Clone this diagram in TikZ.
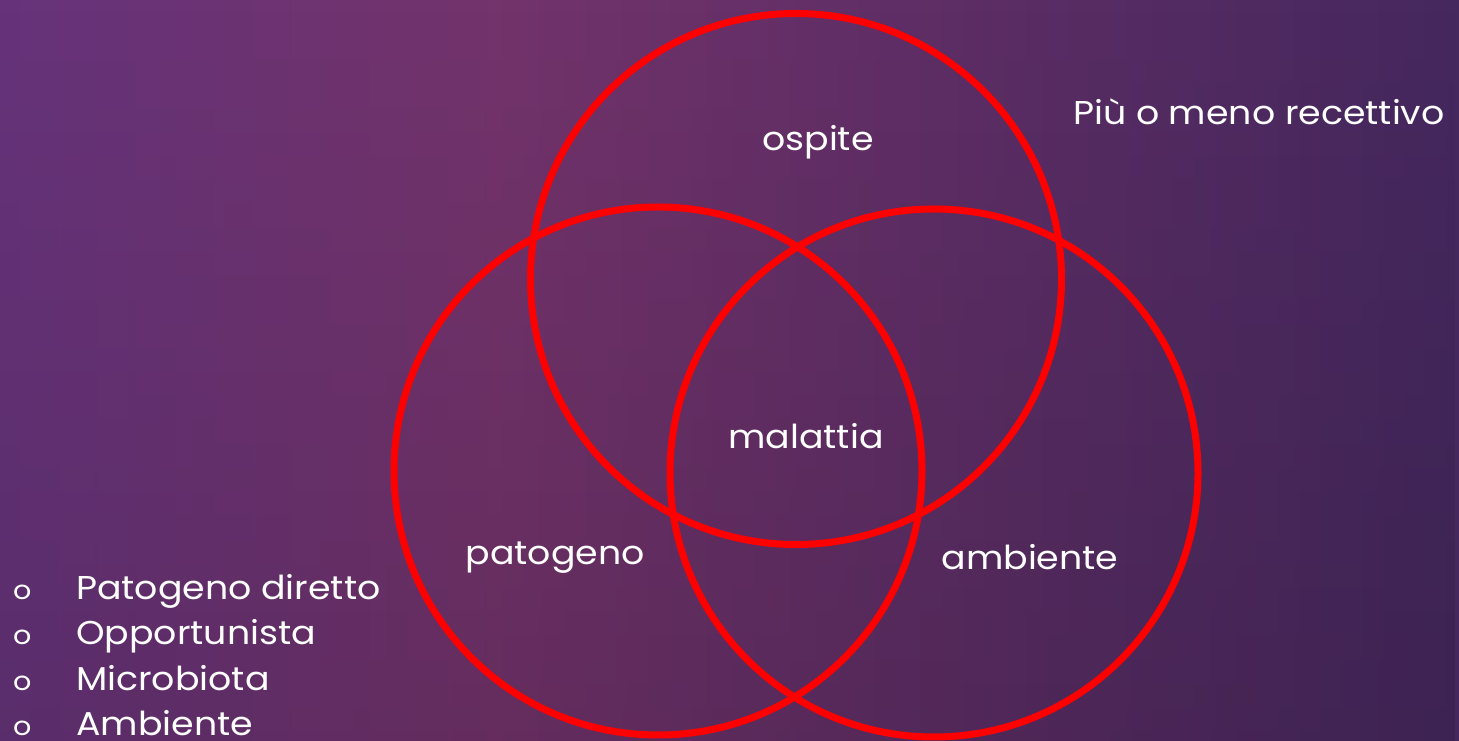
\documentclass[tikz,border=0pt]{standalone}
\usepackage{fontspec}
\setmainfont{Poppins}[FakeStretch=1.1]
\usetikzlibrary{fadings}
\pgfdeclarehorizontalshading{bgshade}{100bp}{rgb(0bp)=(0.40,0.20,0.48); rgb(25bp)=(0.40,0.20,0.48); rgb(42bp)=(0.45,0.20,0.42); rgb(75bp)=(0.27,0.155,0.37); rgb(100bp)=(0.27,0.155,0.37)}
\definecolor{ringred}{RGB}{255,0,0}
\tikzset{
  ring/.style={draw=ringred, line width=7pt},
  lbl/.style={text=white, font=\fontsize{33}{40}\selectfont, inner sep=0pt},
  item/.style={text=white, font=\fontsize{33}{40}\selectfont, inner sep=0pt, anchor=base west},
  bul/.style={text=white, font=\fontsize{26}{30}\selectfont, inner sep=0pt, anchor=base west}
}
\begin{document}
\begin{tikzpicture}[x=1pt,y=1pt]
\useasboundingbox (0,0) rectangle (1459,741);
\shade[shading=bgshade] (0,0) rectangle (1459,741);
\fill[black, opacity=0.12, path fading=north] (0,0) rectangle (1459,741);
% circles
\node[ring, circle, minimum size=531pt, inner sep=0pt] (top) at (796,462) {};
\node[ring, circle, minimum size=528pt, inner sep=0pt] (left) at (658,270) {};
\node[ring, circle, minimum size=528pt, inner sep=0pt] (right) at (934,268) {};
% labels
\node[lbl] (ospite) at (818,599) {ospite};
\node[lbl] (malattia) at (806,305) {malattia};
\node[lbl] (patogeno) at (555,183) {patogeno};
\node[lbl] (ambiente) at (1030,184) {ambiente};
\node[lbl, anchor=west] (recett) at (1073,629) {Più o meno recettivo};
% list
\node[bul] (b1) at (13,141) {o};
\node[item] (i1) at (76,141) {Patogeno diretto};
\node[bul] (b2) at (13,96) {o};
\node[item] (i2) at (76,96) {Opportunista};
\node[bul] (b3) at (13,50) {o};
\node[item] (i3) at (76,50) {Microbiota};
\node[bul] (b4) at (13,5) {o};
\node[item] (i4) at (76,5) {Ambiente};
\end{tikzpicture}
\end{document}
